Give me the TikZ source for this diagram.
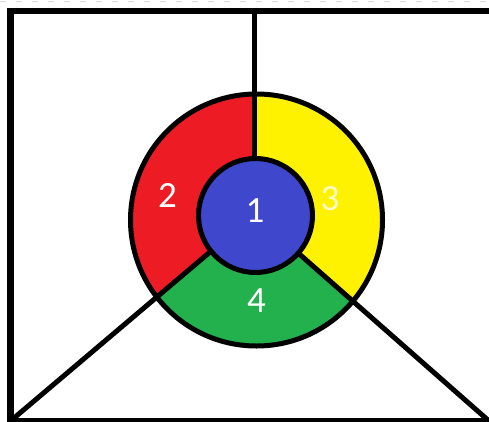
\documentclass[tikz,border=0pt]{standalone}
\usepackage{fontspec}
\setmainfont{Carlito}
\definecolor{pRed}{HTML}{ED1C24}
\definecolor{pYellow}{HTML}{FFF200}
\definecolor{pGreen}{HTML}{22B14C}
\definecolor{pBlue}{HTML}{3F48CC}
\begin{document}
\begin{tikzpicture}[x=1pt,y=1pt,
  ring line/.style={line width=5pt,black},
  frame line/.style={line width=6.5pt,black},
  lab/.style={text=white,font=\fontsize{37}{37}\selectfont,inner sep=0pt}]
\useasboundingbox (0,0) rectangle (489,421);
\fill[white] (0,0) rectangle (489,421);
\draw[gray!30,line width=1.5pt,dash pattern=on 6pt off 10pt] (0,419.5) -- (489,419.5);
\coordinate (CO) at (256.5,201);
\coordinate (CI) at (255.5,205.5);
\coordinate (TOP) at (254,410);
\coordinate (IT) at (254,262);
\coordinate (IL) at (210,169);
\coordinate (IR) at (297,169);
\coordinate (BL) at (10.5,0);
\coordinate (BR) at (489,0);
% sectors
\begin{scope}
  \clip (CO) circle[radius=126];
  \fill[pYellow] (CO) circle[radius=126];
  \fill[pRed] (254,421) -- (254,205) -- (IL) -- (BL) -- (0,0) -- (0,421) -- cycle;
  \fill[pGreen] (BL) -- (IL) -- (IR) -- (BR) -- cycle;
\end{scope}
\draw[ring line] (CO) circle[radius=126];
\fill[pBlue] (CI) circle[radius=57];
\draw[ring line] (CI) circle[radius=57];
% frame
\draw[frame line] (489,410) -- (10.5,410) -- (BL) -- (489,0);
% connectors
\draw[ring line] (IT) -- (TOP);
\draw[ring line] (IL) -- (BL);
\draw[ring line] (IR) -- (BR);
% labels
\node[lab] (n1) at (255,210.5) {1};
\node[lab] (n2) at (167.5,226) {2};
\node[lab,text=white!80!yellow] (n3) at (330,222) {3};
\node[lab] (n4) at (256.5,120.5) {4};
\end{tikzpicture}
\end{document}
